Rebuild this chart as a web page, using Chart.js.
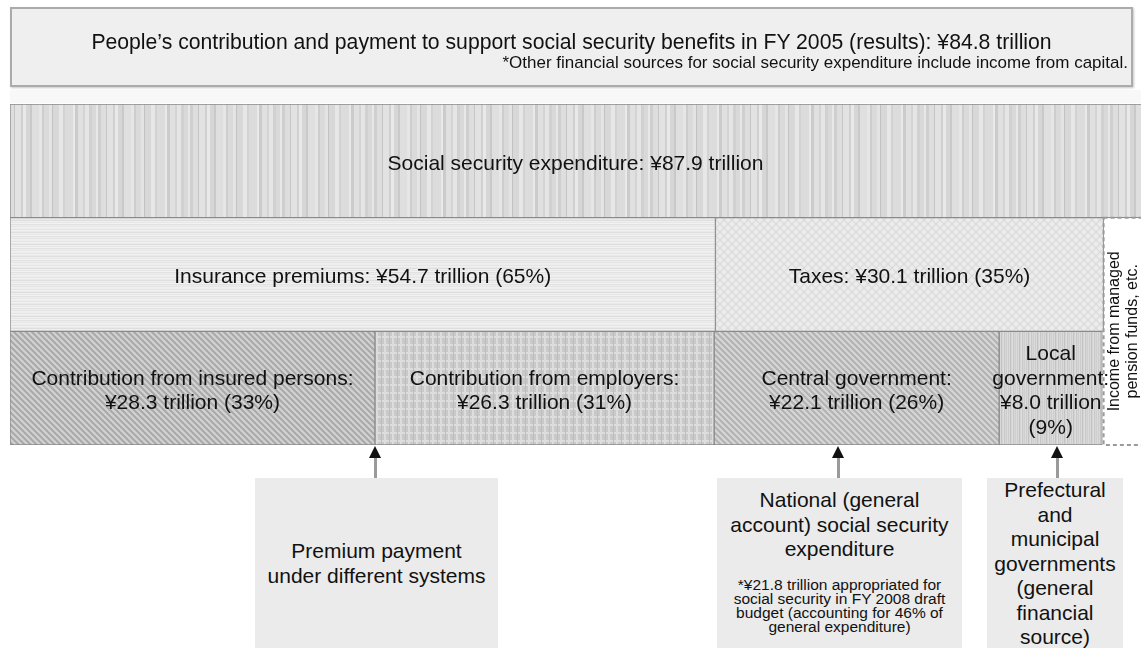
<!DOCTYPE html>
<html>
<head>
<meta charset="utf-8">
<script src="https://cdn.jsdelivr.net/npm/chart.js@4"></script>
<style>
  body { margin: 0; background: #fff; font-family: "Liberation Sans", Arial, sans-serif; color: #111; }
  #wrap { position: relative; width: 1141px; height: 648px; overflow: hidden; }
  #chart { position: absolute; left: 0; top: 0; }
  .band { position: absolute; left: 10px; top: 90px; width: 1131px; height: 13px; background: #f8f8f8; }
  .topbox { position: absolute; left: 10px; top: 7px; width: 1119px; height: 76px; background: #efefef;
            border: 2px solid #ababab; box-shadow: 1px 1px 2px #c8c8c8; }
  .title { position: absolute; left: 10px; top: 30px; width: 1123px; text-align: center; font-size: 21.2px; line-height: 24px; }
  .footnote { position: absolute; right: 13px; top: 53px; font-size: 17px; line-height: 20px; }
  .box { position: absolute; top: 478px; height: 170px; background: #ebebeb; text-align: center; font-size: 21px; line-height: 24.5px; }
  .box .small { font-size: 15.5px; line-height: 14px; margin-top: 16px; }
  .stem { position: absolute; top: 458px; width: 3px; height: 20px; background: #9a9a9a; }
  .head { position: absolute; top: 446px; width: 0; height: 0; border-left: 6px solid transparent;
          border-right: 6px solid transparent; border-bottom: 12px solid #111; }
</style>
</head>
<body>
<div id="wrap">
  <div class="band"></div>
  <canvas id="chart" width="1141" height="648"></canvas>
  <div class="topbox"></div>
  <div class="title">People’s contribution and payment to support social security benefits in FY 2005 (results): ¥84.8 trillion</div>
  <div class="footnote">*Other financial sources for social security expenditure include income from capital.</div>

  <div class="head" style="left:369px"></div><div class="stem" style="left:374px"></div>
  <div class="head" style="left:832px"></div><div class="stem" style="left:837px"></div>
  <div class="head" style="left:1051px"></div><div class="stem" style="left:1056px"></div>

  <div class="box" style="left:255px; width:243px;">
    <div style="padding-top:61px">Premium payment<br>under different systems</div>
  </div>
  <div class="box" style="left:717px; width:245px;">
    <div style="padding-top:10px">National (general<br>account) social security<br>expenditure</div>
    <div class="small">*¥21.8 trillion appropriated for<br>social security in FY 2008 draft<br>budget (accounting for 46% of<br>general expenditure)</div>
  </div>
  <div class="box" style="left:987px; width:136px;">
    <div style="padding-top:0px">Prefectural<br>and<br>municipal<br>governments<br>(general<br>financial<br>source)</div>
  </div>
</div>

<script>
// rows of the diagram (top to bottom)
const categories = ["Expenditure", "Financial sources", "Contributors"];

// trillion yen, FY 2005
const expenditureName = "Social security expenditure";
const expenditure = 87.9;

const sourceNames = ["Insurance premiums", "Taxes"];
const sourceValues = [54.7, 30.1];
const sourceShares = [65, 35];

const payerNames = [["Contribution from insured persons:"], ["Contribution from employers:"], ["Central government:"], ["Local", "government:"]];
const payerValues = [28.3, 26.3, 22.1, 8.0];
const payerShares = [33, 31, 26, 9];
const payerSplit = [false, false, false, true];

const otherIncome = 3.1;   // income from managed pension funds, etc.
const otherLines = ["Income from managed", "pension funds, etc."];

const xMax = 87.7;

const ctx = document.getElementById("chart").getContext("2d");

// ---- fill patterns ----
function tile(w, h, draw) {
    const c = document.createElement("canvas");
    c.width = w; c.height = h;
    draw(c.getContext("2d"));
    return ctx.createPattern(c, "repeat");
}

const barcode = [[4,"#d9d9d9"],[2,"#e8e8e8"],[3,"#cfcfcf"],[5,"#dedede"],[1,"#c6c6c6"],[6,"#e2e2e2"],[2,"#d0d0d0"],
                 [3,"#e9e9e9"],[4,"#d6d6d6"],[2,"#c9c9c9"],[7,"#dfdfdf"],[3,"#e6e6e6"],[2,"#cdcdcd"],[5,"#dadada"],
                 [3,"#e4e4e4"],[1,"#c2c2c2"],[6,"#d8d8d8"],[4,"#e7e7e7"],[2,"#d2d2d2"],[8,"#dcdcdc"],[2,"#e9e9e9"],
                 [3,"#cbcbcb"],[5,"#e0e0e0"],[2,"#d4d4d4"],[4,"#e5e5e5"],[3,"#d1d1d1"]];
const barcodeWidth = barcode.reduce((s, b) => s + b[0], 0);

const patExpenditure = tile(barcodeWidth, 4, g => {
    let x = 0;
    barcode.forEach(b => { g.fillStyle = b[1]; g.fillRect(x, 0, b[0], 4); x += b[0]; });
});

const patInsurance = tile(4, 12, g => {
    const rows = ["#eeeeee","#e4e4e4","#f1f1f1","#e9e9e9","#dedede","#efefef","#e7e7e7","#f2f2f2","#e2e2e2","#ececec","#e6e6e6","#f0f0f0"];
    rows.forEach((c, i) => { g.fillStyle = c; g.fillRect(0, i, 4, 1); });
});

const patTaxes = tile(8, 8, g => {
    g.fillStyle = "#ececec"; g.fillRect(0, 0, 8, 8);
    g.strokeStyle = "#d9d9d9"; g.lineWidth = 1.2;
    g.beginPath();
    g.moveTo(0, 0); g.lineTo(8, 8);
    g.moveTo(8, 0); g.lineTo(0, 8);
    g.stroke();
});

function diagonal(base, line) {
    return tile(6, 6, g => {
        g.fillStyle = base; g.fillRect(0, 0, 6, 6);
        g.strokeStyle = line; g.lineWidth = 2;
        g.beginPath();
        g.moveTo(-1, -1); g.lineTo(7, 7);
        g.moveTo(-1, 5); g.lineTo(1, 7);
        g.moveTo(5, -1); g.lineTo(7, 1);
        g.stroke();
    });
}
const patInsured = diagonal("#d2d2d2", "#a9a9a9");
const patCentral = diagonal("#d6d6d6", "#b2b2b2");

const patEmployers = tile(8, 8, g => {
    g.fillStyle = "#c9c9c9"; g.fillRect(0, 0, 8, 8);
    g.fillStyle = "#dddddd"; g.fillRect(0, 0, 8, 2); g.fillRect(0, 0, 2, 8);
    g.fillStyle = "#bdbdbd"; g.fillRect(5, 0, 1, 8);
});

const patLocal = tile(9, 2, g => {
    const cols = ["#cdcdcd","#d9d9d9","#c3c3c3","#d4d4d4","#dedede","#c8c8c8","#d6d6d6","#cfcfcf","#dbdbdb"];
    cols.forEach((c, i) => { g.fillStyle = c; g.fillRect(i, 0, 1, 2); });
});

// ---- datasets ----
function rowData(row, value) {
    const d = [null, null, null];
    d[row] = value;
    return d;
}
function money(v) { return "¥" + v.toFixed(1) + " trillion"; }

const datasets = [];
datasets.push({ label: expenditureName, data: rowData(0, expenditure), backgroundColor: patExpenditure,
                lines: [expenditureName + ": " + money(expenditure)] });

const sourcePatterns = [patInsurance, patTaxes];
sourceNames.forEach((n, i) => {
    datasets.push({ label: n, data: rowData(1, sourceValues[i]), backgroundColor: sourcePatterns[i],
                    lines: [n + ": " + money(sourceValues[i]) + " (" + sourceShares[i] + "%)"] });
});
datasets.push({ label: "other1", data: rowData(1, otherIncome), backgroundColor: "rgba(0,0,0,0)", borderWidth: 0, other: true });

const payerPatterns = [patInsured, patEmployers, patCentral, patLocal];
payerNames.forEach((n, i) => {
    const lines = n.slice();
    if (payerSplit[i]) {
        lines.push(money(payerValues[i]), "(" + payerShares[i] + "%)");
    } else {
        lines.push(money(payerValues[i]) + " (" + payerShares[i] + "%)");
    }
    datasets.push({ label: n.join(" "), data: rowData(2, payerValues[i]), backgroundColor: payerPatterns[i], lines: lines });
});
datasets.push({ label: "other2", data: rowData(2, otherIncome), backgroundColor: "rgba(0,0,0,0)", borderWidth: 0, other: true });

// ---- labels and the dashed box ----
const labelPlugin = {
    id: "labels",
    afterDatasetsDraw(chart) {
        const c = chart.ctx;
        const area = chart.chartArea;
        c.save();
        c.fillStyle = "#111";
        c.font = "21px 'Liberation Sans', Arial, sans-serif";
        c.textAlign = "center";
        c.textBaseline = "middle";
        const others = [];
        chart.data.datasets.forEach((ds, i) => {
            const meta = chart.getDatasetMeta(i);
            meta.data.forEach((el, j) => {
                if (ds.data[j] == null) return;
                if (ds.other) { others.push(el); return; }
                const x0 = Math.max(area.left, Math.min(el.base, el.x));
                const x1 = Math.min(area.right, Math.max(el.base, el.x));
                const cx = (x0 + x1) / 2;
                const lh = 24.5;
                const top = el.y + 3 - (ds.lines.length - 1) * lh / 2;
                ds.lines.forEach((t, k) => c.fillText(t, cx, top + k * lh));
            });
        });
        if (others.length === 2) {
            const a = others[0], b = others[1];
            const x0 = a.base, x1 = a.x;
            const y0 = a.y - a.height / 2, y1 = b.y + b.height / 2;
            c.setLineDash([4, 3]);
            c.strokeStyle = "#9a9a9a";
            c.lineWidth = 2;
            c.strokeRect(x0, y0, x1 - x0, y1 - y0);
            c.setLineDash([]);
            c.translate((x0 + x1) / 2, (y0 + y1) / 2);
            c.rotate(-Math.PI / 2);
            c.font = "16px 'Liberation Sans', Arial, sans-serif";
            c.fillText(otherLines[0], 0, -9);
            c.fillText(otherLines[1], 0, 9);
        }
        c.restore();
    }
};

new Chart(ctx, {
    type: "bar",
    data: { labels: categories, datasets: datasets },
    options: {
        indexAxis: "y",
        responsive: false,
        animation: false,
        layout: { padding: { left: 10, top: 104, right: 0, bottom: 203 } },
        datasets: { bar: { barPercentage: 1, categoryPercentage: 1, borderWidth: 1, borderColor: "#8a8a8a", borderSkipped: false } },
        plugins: { legend: { display: false }, tooltip: { enabled: false } },
        scales: {
            x: { stacked: true, display: false, min: 0, max: xMax },
            y: { stacked: true, display: false }
        }
    },
    plugins: [labelPlugin]
});
</script>
</body>
</html>
